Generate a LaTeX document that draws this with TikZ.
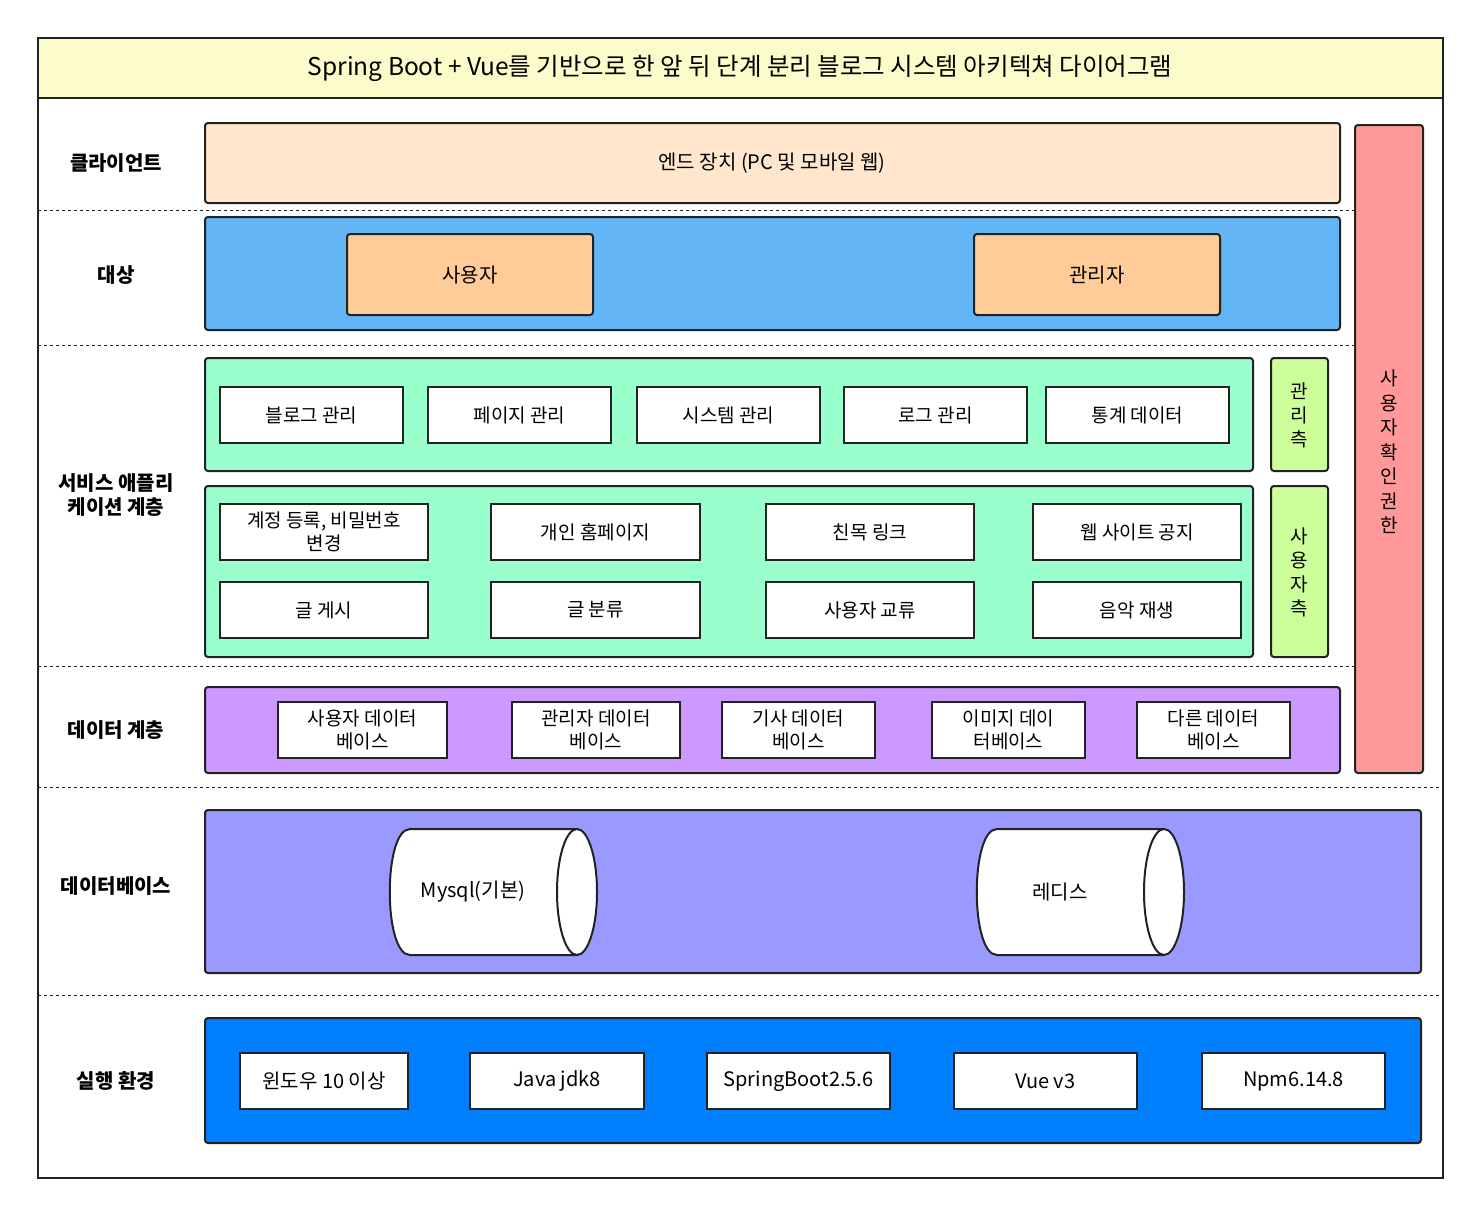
\documentclass[tikz,border=0pt]{standalone}
\usepackage{fontspec}
\setmainfont{Noto Sans CJK KR}
\definecolor{ttl}{HTML}{FCFCCB}
\definecolor{cli}{HTML}{FFE6CC}
\definecolor{tgt}{HTML}{64B5F6}
\definecolor{usr}{HTML}{FFCC99}
\definecolor{grn}{HTML}{99FFCC}
\definecolor{lim}{HTML}{CCFF99}
\definecolor{red}{HTML}{FF9999}
\definecolor{pur}{HTML}{CC99FF}
\definecolor{dbc}{HTML}{9999FF}
\definecolor{run}{HTML}{007FFF}
\definecolor{ln}{HTML}{222222}
\begin{document}
\begin{tikzpicture}[x=1pt,y=-1pt,
 box/.style={draw=ln,line width=2pt,rounded corners=3pt},
 item/.style={draw=ln,line width=2pt,fill=white,font=\fontsize{19}{23}\selectfont,align=center},
 lab/.style={font=\bfseries\fontsize{20}{24}\selectfont,align=center},
 txt/.style={font=\fontsize{20}{24}\selectfont,align=center},
 cyl/.style={draw=ln,line width=2pt,fill=white},
 sep/.style={dashed,line width=1pt,draw=ln}]
\useasboundingbox (0,0) rectangle (1480,1216);
\fill[white] (0,0) rectangle (1480,1216);
\draw[line width=2pt,draw=ln,fill=ttl] (38,38) rectangle (1443,98);
\node[font=\fontsize{24.5}{28}\selectfont] (title) at (740,68) {Spring Boot + Vue를 기반으로 한 앞 뒤 단계 분리 블로그 시스템 아키텍쳐 다이어그램};
\draw[line width=2pt,draw=ln] (38,98) rectangle (1443,1178);
\draw[sep] (38,210) -- (1355,210);
\draw[sep] (38,345) -- (1355,345);
\draw[sep] (38,666) -- (1355,666);
\draw[sep] (38,787) -- (1443,787);
\draw[sep] (38,995) -- (1443,995);
\node[lab] (l1) at (116,163) {클라이언트};
\node[lab] (l2) at (116,275) {대상};
\node[lab] (l3) at (116,495) {서비스 애플리\\케이션 계층};
\node[lab] (l4) at (116,730) {데이터 계층};
\node[lab] (l5) at (116,886) {데이터베이스};
\node[lab] (l6) at (116,1081) {실행 환경};
% client
\draw[box,fill=cli] (205,123) rectangle (1340,203);
\node[txt] (cl) at (772,163) {엔드 장치 (PC 및 모바일 웹)};
% target
\draw[box,fill=tgt] (205,217) rectangle (1340,330);
\draw[box,fill=usr] (347,234) rectangle (593,315);
\node[txt] (u) at (470,275) {사용자};
\draw[box,fill=usr] (974,234) rectangle (1220,315);
\node[txt] (a) at (1097,275) {관리자};
% service
\draw[box,fill=grn] (205,358) rectangle (1253,471);
\foreach \xa/\xb/\t [count=\i] in {220/403/블로그 관리,428/611/페이지 관리,637/820/시스템 관리,844/1027/로그 관리,1046/1229/통계 데이터}
  \node[item,minimum width=\xb-\xa,minimum height=56] (s\i) at ({(\xa+\xb)/2},415) {\t};
\draw[box,fill=grn] (205,486) rectangle (1253,657);
\foreach \xa/\xb/\t [count=\i] in {220/428/{계정 등록, 비밀번호\\변경},491/700/개인 홈페이지,766/974/친목 링크,1033/1241/웹 사이트 공지}
  \node[item,minimum width=\xb-\xa,minimum height=56,inner sep=1pt] (r\i) at ({(\xa+\xb)/2},532) {\t};
\foreach \xa/\xb/\t [count=\i] in {220/428/글 게시,491/700/글 분류,766/974/사용자 교류,1033/1241/음악 재생}
  \node[item,minimum width=\xb-\xa,minimum height=56] (q\i) at ({(\xa+\xb)/2},610) {\t};
\draw[box,fill=lim] (1271,358) rectangle (1328,471);
\node[font=\fontsize{19}{24}\selectfont,align=center] (m1) at (1299,415) {관\\리\\측};
\draw[box,fill=lim] (1271,486) rectangle (1328,657);
\node[font=\fontsize{19}{24}\selectfont,align=center] (m2) at (1299,572) {사\\용\\자\\측};
\draw[box,fill=red] (1355,125) rectangle (1423,773);
\node[font=\fontsize{19}{24.5}\selectfont,align=center] (auth) at (1389,452) {사\\용\\자\\확\\인\\권\\한};
% data
\draw[box,fill=pur] (205,687) rectangle (1340,773);
\foreach \xa/\xb/\t [count=\i] in {278/447/{사용자 데이터\\베이스},512/680/{관리자 데이터\\베이스},722/875/{기사 데이터\\베이스},932/1085/{이미지 데이\\터베이스},1137/1290/{다른 데이터\\베이스}}
  \node[item,minimum width=\xb-\xa,minimum height=56,inner sep=1pt] (d\i) at ({(\xa+\xb)/2},730) {\t};
% db
\draw[box,fill=dbc] (205,810) rectangle (1421,973);
\draw[cyl] (577,829) -- (410,829) .. controls (383,829) and (383,955) .. (410,955) -- (577,955);
\draw[cyl] (577,892) ellipse [x radius=20,y radius=63];
\node[txt] (my) at (473,892) {Mysql(기본)};
\draw[cyl] (1164,829) -- (997,829) .. controls (970,829) and (970,955) .. (997,955) -- (1164,955);
\draw[cyl] (1164,892) ellipse [x radius=20,y radius=63];
\node[txt] (rd) at (1060,892) {레디스};
% runtime
\draw[box,fill=run] (205,1018) rectangle (1421,1143);
\foreach \xa/\xb/\t [count=\i] in {240/408/윈도우 10 이상,470/644/Java jdk8,707/890/SpringBoot2.5.6,954/1137/Vue v3,1202/1385/Npm6.14.8}
  \node[item,minimum width=\xb-\xa,minimum height=56,font=\fontsize{20}{24}\selectfont] (e\i) at ({(\xa+\xb)/2},1081) {\t};
\end{tikzpicture}
\end{document}
